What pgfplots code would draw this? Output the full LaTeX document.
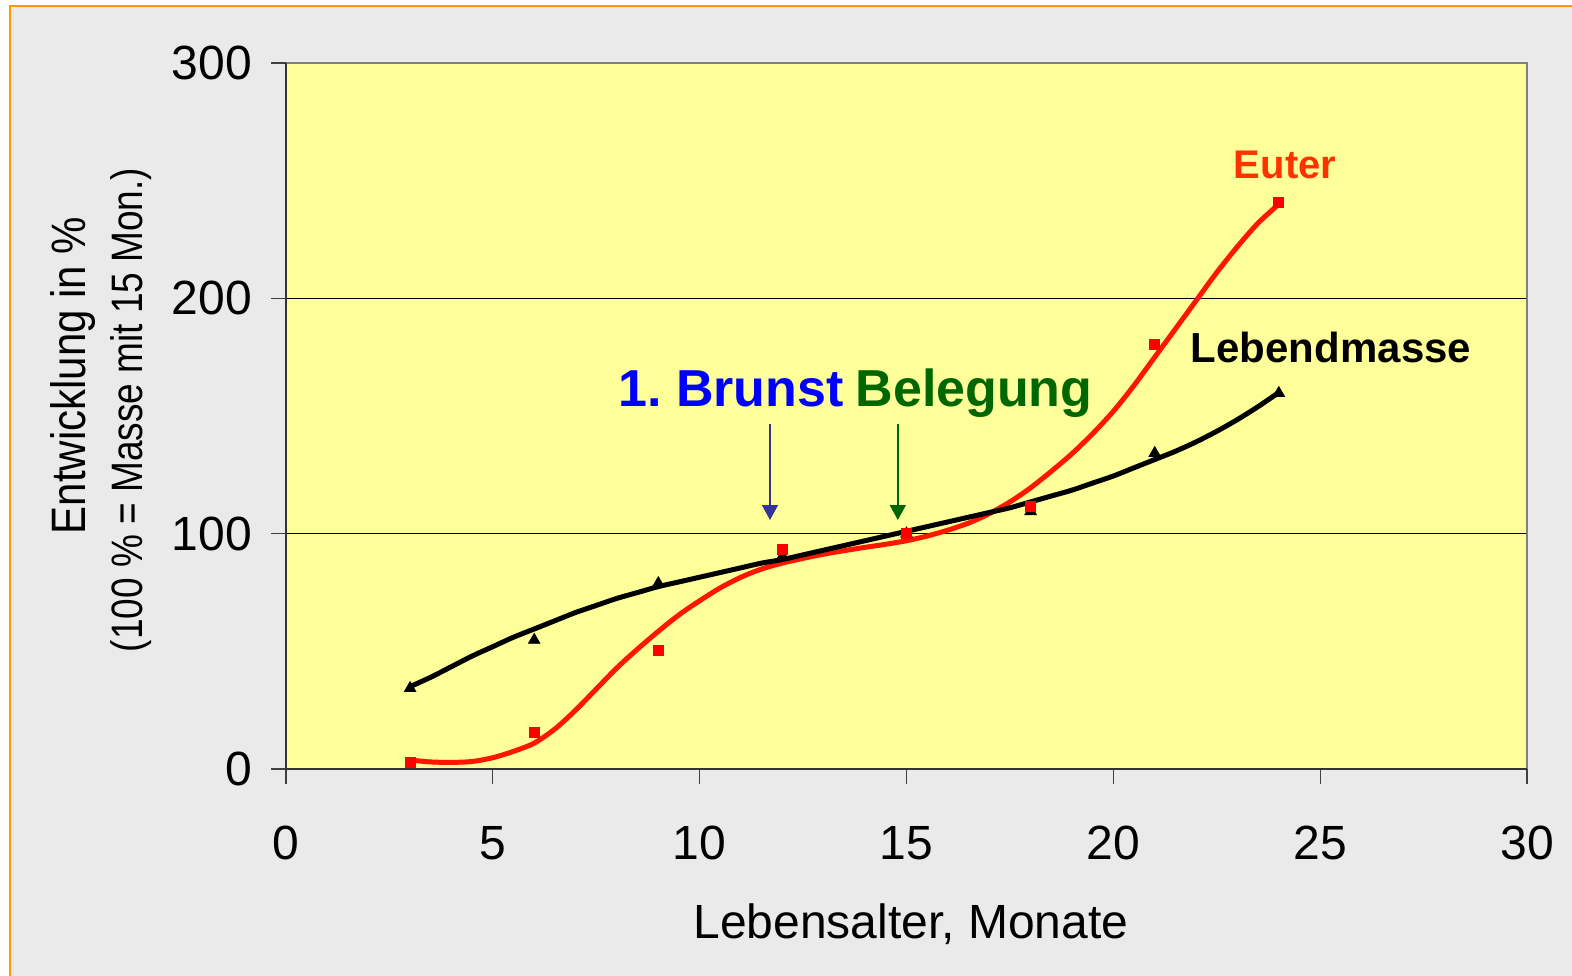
\documentclass[border=0pt]{standalone}
\usepackage{pgfplots}
\pgfplotsset{compat=1.18}
\usepackage{fontspec}
\setmainfont{Liberation Sans}
\usetikzlibrary{arrows.meta}
\definecolor{bg}{HTML}{EAEAEA}
\definecolor{plotbg}{HTML}{FFFF99}
\definecolor{frameorange}{HTML}{FF9900}
\definecolor{euter}{HTML}{FF1500}
\definecolor{eutermark}{HTML}{FF0000}
\definecolor{eutertext}{HTML}{FF3300}
\definecolor{brunst}{HTML}{0000FF}
\definecolor{brunstarrow}{HTML}{333399}
\definecolor{beleg}{HTML}{006600}
\frenchspacing
\begin{document}
\begin{tikzpicture}
\useasboundingbox (0pt,0pt) rectangle (786pt,487.5pt);
\fill[white] (0pt,0pt) rectangle (786pt,487.5pt);
\begin{scope}
\clip (0pt,0pt) rectangle (786pt,487.5pt);
\filldraw[fill=bg, draw=frameorange, line width=1.2pt] (5pt,484.5pt) rectangle (800pt,-10pt);
\end{scope}
\begin{axis}[
  at={(143pt,103pt)}, anchor=south west, scale only axis,
  width=620.5pt, height=353pt,
  xmin=0, xmax=30, ymin=0, ymax=300,
  xtick={0,5,...,30}, ytick={0,100,200,300},
  axis background/.style={fill=plotbg},
  axis line style={draw=none},
  ymajorgrids, grid style={black, line width=0.6pt},
  tick align=outside, xtick pos=bottom, ytick pos=left,
  major tick length=7.5pt,
  tick style={black!75, line width=0.6pt},
  tick label style={font=\fontsize{24}{28}\selectfont},
  /pgf/number format/assume math mode=true,
  xticklabel shift=17.5pt,
  yticklabel shift=6pt,
  clip=false,
]
% trend lines
\addplot[euter, line width=2.5pt, smooth, no marks] coordinates {
(3,3.8) (3.5,3.0) (4,2.8) (4.5,3.2) (5,4.8) (5.5,7.5) (6,11) (6.5,17) (7,25) (7.5,34)
(8,43) (8.5,51) (9,58.5) (9.5,65.5) (10,71.5) (10.5,77) (11,81.5) (11.5,85) (12,87.5)
(12.5,89.5) (13,91.3) (13.5,92.8) (14,94.2) (14.5,95.5) (15,97) (15.5,99) (16,101.5)
(16.5,104.5) (17,108.5) (17.5,113.5) (18,119.5) (18.5,126.5) (19,134) (19.5,142.5)
(20,152) (20.5,163) (21,175) (21.5,187) (22,199) (22.5,211) (23,222) (23.5,232) (24,240)
};
\addplot[black, line width=2.5pt, smooth, no marks] coordinates {
(3,35) (3.5,39) (4,43.5) (4.5,48) (5,52) (5.5,56) (6,59.5) (6.5,63) (7,66.5) (7.5,69.5)
(8,72.5) (8.5,75) (9,77.5) (9.5,79.5) (10,81.5) (10.5,83.5) (11,85.5) (11.5,87.5) (12,89)
(12.5,91) (13,93) (13.5,95) (14,97) (14.5,99) (15,101) (15.5,103) (16,105) (16.5,107)
(17,109) (17.5,111) (18,113.5) (18.5,116) (19,118.5) (19.5,121.5) (20,124.5) (20.5,128)
(21,131.5) (21.5,135) (22,139) (22.5,143.5) (23,148.5) (23.5,154) (24,160)
};
% data points
\addplot[only marks, mark=triangle*, mark size=3.3pt, black] coordinates {
(3,34.3) (6,54.8) (9,78.9) (12,90.5) (15,100) (18,109.5) (21,134.2) (24,159.7)
};
\addplot[only marks, mark=square*, mark size=2.5pt, eutermark] coordinates {
(3,3) (6,15.4) (9,50.3) (12,93.3) (15,100.2) (18,111.5) (21,180.4) (24,240.7)
};
% frame
\draw[gray, line width=0.9pt] (rel axis cs:0,1) -- (rel axis cs:1,1) -- (rel axis cs:1,0);
\draw[black!80, line width=0.9pt] (rel axis cs:0,1) -- (rel axis cs:0,0) -- (rel axis cs:1,0);
% arrows
\draw[brunstarrow, line width=0.8pt, -{Triangle[length=7.5pt,width=8pt]}] (axis cs:11.7,146.6) -- (axis cs:11.7,105.8);
\draw[beleg, line width=0.8pt, -{Triangle[length=7.5pt,width=8pt]}] (axis cs:14.79,146.6) -- (axis cs:14.79,105.8);
\end{axis}
% annotations
\node[anchor=base, inner sep=0, font=\fontsize{26}{30}\selectfont\bfseries, text=brunst] at (365.5pt,284pt) {1. Brunst};
\node[anchor=base, inner sep=0, font=\fontsize{26}{30}\selectfont\bfseries, text=beleg] at (487pt,284pt) {Belegung};
\node[anchor=base, inner sep=0, font=\fontsize{20}{24}\selectfont\bfseries, text=eutertext] at (642.5pt,398pt) {Euter};
\node[anchor=base, inner sep=0, font=\fontsize{21}{24}\selectfont\bfseries, text=black] at (665.5pt,306pt) {Lebendmasse};
% axis labels
\node[anchor=base, inner sep=0, font=\fontsize{24}{28}\selectfont] at (455.5pt,18.5pt) {Lebensalter, Monate};
\node[rotate=90, anchor=base, inner sep=0, font=\fontsize{21}{24}\selectfont] at (42.5pt,299.75pt) {\scalebox{1}[1.15]{Entwicklung in \%}};
\node[rotate=90, anchor=base, inner sep=0, font=\fontsize{18.5}{22}\selectfont] at (71pt,282.5pt) {\scalebox{1}[1.19]{(100 \% = Masse mit 15 Mon.)}};
\end{tikzpicture}
\end{document}
